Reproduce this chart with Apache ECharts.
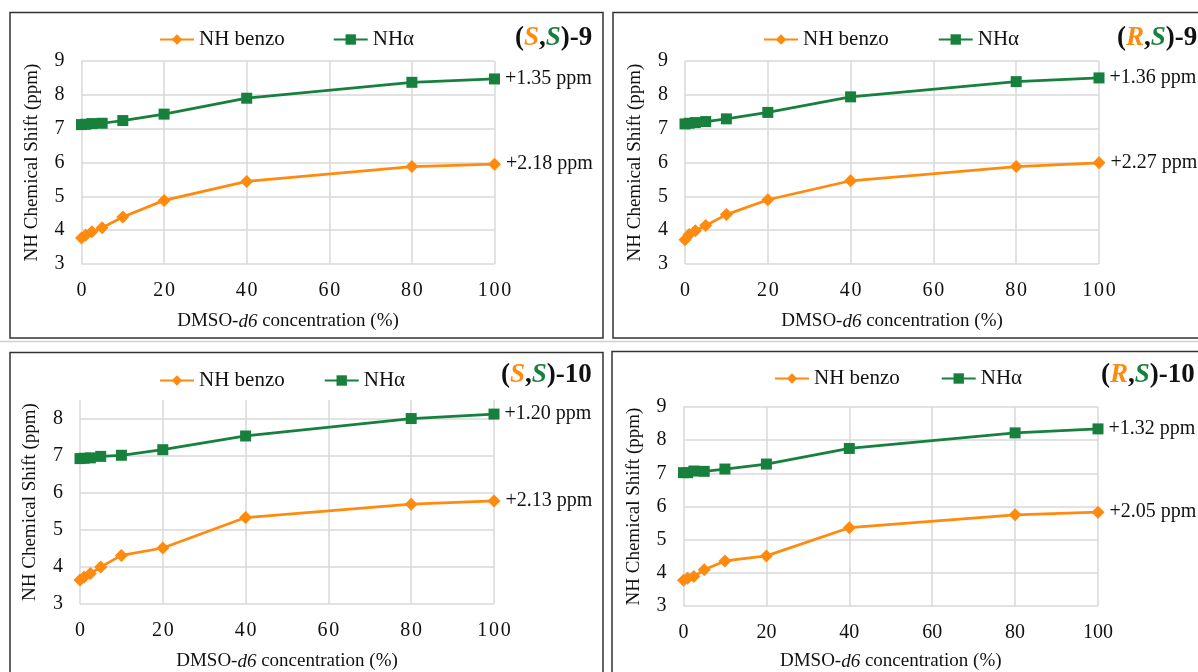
<!DOCTYPE html>
<html>
<head>
<meta charset="utf-8">
<script src="https://cdn.jsdelivr.net/npm/echarts@6/dist/echarts.min.js"></script>
<style>
html,body{margin:0;padding:0;background:#fff;}
#chart{width:1198px;height:672px;}
</style>
</head>
<body>
<div id="chart"></div>
<script>
// ---- data ----
const concentration = [0, 1, 2.5, 5, 10, 20, 40, 80, 100];
const seriesNames = ['NH benzo', 'NHα'];

const ss9Benzo  = [3.77, 3.85, 3.95, 4.07, 4.39, 4.88, 5.44, 5.88, 5.95];
const ss9Alpha  = [7.12, 7.13, 7.15, 7.16, 7.24, 7.43, 7.90, 8.37, 8.47];
const rs9Benzo  = [3.72, 3.87, 3.98, 4.14, 4.46, 4.90, 5.46, 5.88, 5.99];
const rs9Alpha  = [7.14, 7.16, 7.18, 7.21, 7.29, 7.48, 7.94, 8.39, 8.50];
const ss10Benzo = [3.65, 3.73, 3.82, 4.00, 4.31, 4.51, 5.33, 5.69, 5.78];
const ss10Alpha = [6.92, 6.93, 6.94, 6.98, 7.01, 7.16, 7.53, 8.00, 8.12];
const rs10Benzo = [3.78, 3.84, 3.89, 4.09, 4.36, 4.51, 5.36, 5.75, 5.83];
const rs10Alpha = [7.02, 7.02, 7.07, 7.06, 7.13, 7.28, 7.75, 8.22, 8.34];

const panelLabels = ['(S,S)-9', '(R,S)-9', '(S,S)-10', '(R,S)-10'];
const alphaShift = ['+1.35 ppm', '+1.36 ppm', '+1.20 ppm', '+1.32 ppm'];
const benzoShift = ['+2.18 ppm', '+2.27 ppm', '+2.13 ppm', '+2.05 ppm'];
const yMin = [3, 3, 3, 3];
const yMax = [9, 9, 8.5, 9];
const xMin = 0, xMax = 100, xStep = 20;

// ---- styling / layout ----
const ORANGE = '#FF8A0D';
const GREEN = '#17803D';
const FONT = 'Liberation Serif';

const panels = [
  {grid:{left:81.5, top:61, width:413, height:203}, legend:{left:159, top:29, gap:48}, title:{left:515, top:25}, spaced:true, nameGap:48},
  {grid:{left:685, top:61, width:414, height:203}, legend:{left:763, top:29, gap:49}, title:{left:1117, top:25}, spaced:true, nameGap:48},
  {grid:{left:80, top:400, width:414, height:207}, legend:{left:159, top:370, gap:39}, title:{left:501, top:362}, spaced:true, nameGap:48},
  {grid:{left:683.5, top:407, width:414.5, height:201}, legend:{left:774, top:368, gap:41}, title:{left:1101, top:362}, spaced:false, nameGap:46}
];
const benzoSets = [ss9Benzo, rs9Benzo, ss10Benzo, rs10Benzo];
const alphaSets = [ss9Alpha, rs9Alpha, ss10Alpha, rs10Alpha];

function buildData(vals, shiftText) {
  return concentration.map((x, i) => {
    if (i === concentration.length - 1) {
      return {value: [x, vals[i]], label: {show: true, formatter: shiftText}};
    }
    return [x, vals[i]];
  });
}

const grids = [], xAxes = [], yAxes = [], series = [], legends = [], titles = [];
panels.forEach((p, k) => {
  grids.push(Object.assign({containLabel:false}, p.grid));
  xAxes.push({
    type:'value', gridIndex:k, min:xMin, max:xMax, interval:xStep,
    name:'DMSO-{i|d6} concentration (%)', nameLocation:'middle', nameGap:p.nameGap,
    nameTextStyle:{fontFamily:FONT, fontSize:19, color:'#111', rich:{i:{fontFamily:FONT, fontSize:19, fontStyle:'italic', color:'#111'}}},
    axisLine:{show:false}, axisTick:{show:false},
    axisLabel:{fontFamily:FONT, fontSize:20, color:'#111', margin:17,
      formatter: v => p.spaced ? String(v).split('').join('\u200A') : String(v)},
    splitLine:{show:true, lineStyle:{color:'#D9D9D9', width:1.5}}
  });
  yAxes.push({
    type:'value', gridIndex:k, min:yMin[k], max:yMax[k], interval:1,
    name:'NH Chemical Shift (ppm)', nameLocation:'middle', nameGap:40,
    nameTextStyle:{fontFamily:FONT, fontSize:19, color:'#111'},
    axisLine:{show:false}, axisTick:{show:false},
    axisLabel:{fontFamily:FONT, fontSize:20, color:'#111', margin:17, showMaxLabel: yMax[k] % 1 === 0},
    splitLine:{show:true, showMaxLine: yMax[k] % 1 === 0, lineStyle:{color:'#D9D9D9', width:1.5}}
  });
  const labelStyle = {position:'right', distance:5, fontFamily:FONT, fontSize:20, color:'#111'};
  series.push({
    name:seriesNames[0], type:'line', xAxisIndex:k, yAxisIndex:k,
    data: buildData(benzoSets[k], benzoShift[k]),
    symbol:'diamond', symbolSize:13,
    lineStyle:{color:ORANGE, width:2.75}, itemStyle:{color:ORANGE},
    label:Object.assign({show:false}, labelStyle), animation:false
  });
  series.push({
    name:seriesNames[1], type:'line', xAxisIndex:k, yAxisIndex:k,
    data: buildData(alphaSets[k], alphaShift[k]),
    symbol:'rect', symbolSize:11,
    lineStyle:{color:GREEN, width:2.75}, itemStyle:{color:GREEN},
    label:Object.assign({show:false}, labelStyle), animation:false
  });
  legends.push({
    left:p.legend.left, top:p.legend.top, itemGap:p.legend.gap, padding:0,
    itemWidth:34, itemHeight:13, data:seriesNames,
    textStyle:{fontFamily:FONT, fontSize:21, color:'#111'}, selectedMode:false
  });
  const lab = panelLabels[k];
  const m = lab.match(/^\((\w),(\w)\)(.*)$/);
  titles.push({
    left:p.title.left, top:p.title.top, padding:0,
    text:'{p|(}{o|' + m[1] + '}{p|,}{g|' + m[2] + '}{p|)' + m[3] + '}',
    textStyle:{rich:{
      p:{fontFamily:FONT, fontSize:27, fontWeight:'bold', color:'#111'},
      o:{fontFamily:FONT, fontSize:27, fontWeight:'bold', fontStyle:'italic', color:ORANGE},
      g:{fontFamily:FONT, fontSize:27, fontWeight:'bold', fontStyle:'italic', color:GREEN}
    }}
  });
});

const frame = {stroke:'#333', lineWidth:1.5, fill:null};
const graphics = [
  {type:'line', shape:{x1:0, y1:341.5, x2:1198, y2:341.5}, style:{stroke:'#D0D0D0', lineWidth:1.5}, z:0},
  {type:'rect', shape:{x:10, y:12.5, width:593, height:325.5}, style:frame},
  {type:'rect', shape:{x:613, y:12.5, width:600, height:325.5}, style:frame},
  {type:'rect', shape:{x:10, y:352.5, width:593, height:330}, style:frame},
  {type:'rect', shape:{x:612, y:351.5, width:600, height:330}, style:frame}
];

const chart = echarts.init(document.getElementById('chart'), null, {renderer:'canvas'});
chart.setOption({
  backgroundColor:'#fff', animation:false,
  grid:grids, xAxis:xAxes, yAxis:yAxes, series:series,
  legend:legends, title:titles, graphic:graphics
});
</script>
</body>
</html>
